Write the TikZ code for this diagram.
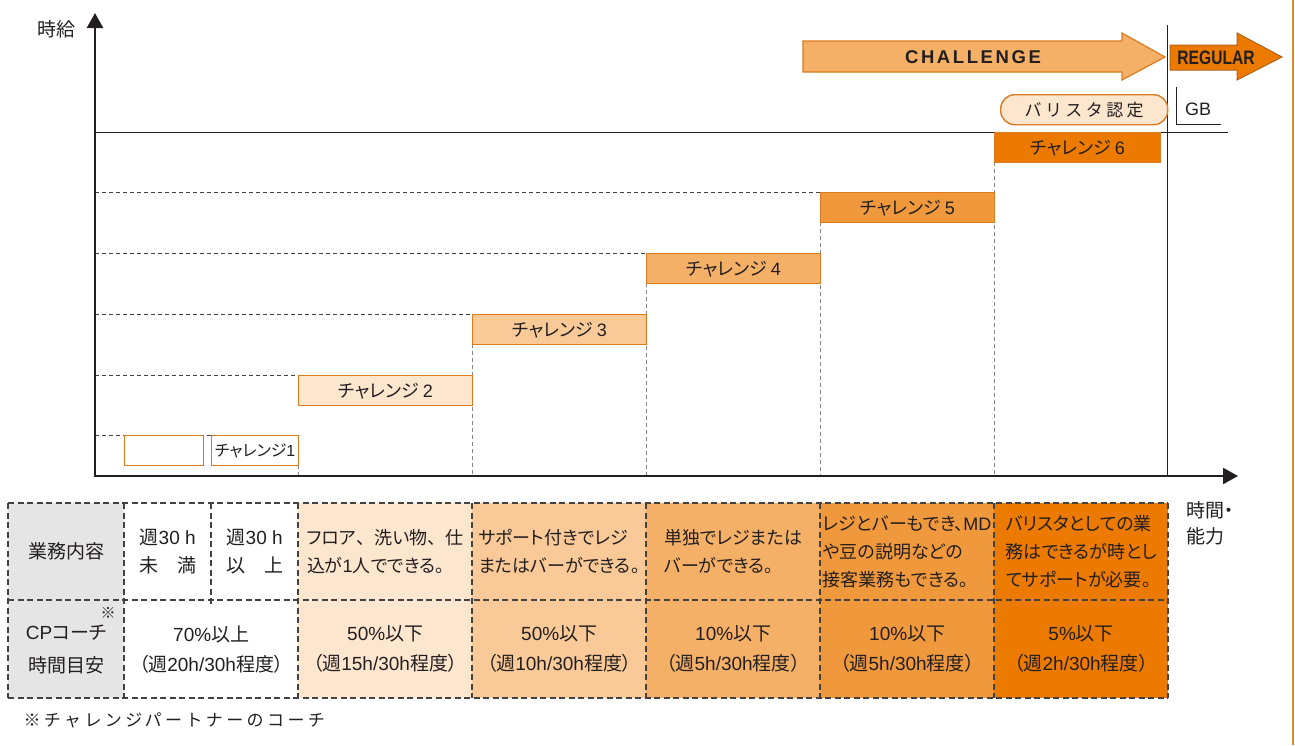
\documentclass[tikz,border=0pt]{standalone}
\usepackage{fontspec}
\setmainfont{Noto Sans CJK JP}[RawFeature=+palt]
\newfontfamily\plainjp{Noto Sans CJK JP}
\newfontfamily\spacedjp[LetterSpace=20]{Noto Sans CJK JP}
\newfontfamily\challfont[LetterSpace=14]{Liberation Sans}
\newfontfamily\latfont{Liberation Sans}
\newcommand\ltn[1]{{\latfont #1}}
\newcommand\fw[1]{{\plainjp #1}}
\newcommand\lpar{\makebox[1em][r]{（}}
\newcommand\rpar{\makebox[1em][l]{）}}
\usetikzlibrary{arrows.meta}
\definecolor{cA}{HTML}{FDE6CE}
\definecolor{cB}{HTML}{F9CA98}
\definecolor{cC}{HTML}{F5B068}
\definecolor{cD}{HTML}{F0983C}
\definecolor{cE}{HTML}{EC7A00}
\definecolor{cborder}{HTML}{DB7A1E}
\definecolor{cgray}{HTML}{E5E5E5}
\definecolor{ctext}{HTML}{231F20}
\definecolor{cedge}{HTML}{E08A30}
\begin{document}
\begin{tikzpicture}[x=1pt,y=-1pt,
  every node/.style={text=ctext},
  stepbox/.style={draw=cborder, line width=1.4pt, minimum height=30pt, inner sep=0pt, anchor=north west, font=\fontsize{18}{18}\selectfont},
  cell/.style={inner sep=0pt, anchor=north west, align=left, minimum height=97pt, font=\fontsize{18}{28}\selectfont},
  cellb/.style={inner sep=0pt, anchor=north west, align=center, minimum height=98pt, font=\fontsize{19}{30}\selectfont},
  grid/.style={draw=ctext!85, line width=1.2pt, dash pattern=on 6pt off 3.5pt},
  hguide/.style={draw=ctext!85, line width=0.8pt, dash pattern=on 4pt off 3pt},
  vguide/.style={draw=ctext!55, line width=0.9pt, dash pattern=on 4pt off 3pt},
  axis/.style={draw=ctext, line width=2.6pt, {Triangle[length=15pt,width=16pt]}-{Triangle[length=15pt,width=16pt]}},
  thinline/.style={draw=ctext, line width=0.9pt}]
\useasboundingbox (0,0) rectangle (1295,745);

% right orange edge
\draw[cedge, line width=2.5pt] (1293,0) -- (1293,745);

% guides
\draw[hguide] (95,192) -- (820,192);
\draw[hguide] (95,253) -- (646,253);
\draw[hguide] (95,314) -- (472,314);
\draw[hguide] (95,375) -- (298,375);
\draw[hguide] (95,435) -- (212,435);
\draw[vguide] (298,465) -- (298,475);
\draw[vguide] (472,344) -- (472,475);
\draw[vguide] (646,283) -- (646,475);
\draw[vguide] (820,222) -- (820,475);
\draw[vguide] (994,162) -- (994,475);
\draw[thinline, line width=0.8pt] (95,132) -- (1228,132);
\draw[thinline] (1167,25) -- (1167,475);

% step boxes
\node[stepbox, fill=white, minimum width=79pt] (blank) at (124,435) {};
\node[stepbox, fill=white, minimum width=87pt, font=\fontsize{16}{16}\selectfont] (s1) at (211,435) {チャレンジ\ltn{1}};
\node[stepbox, fill=cA, minimum width=174pt] (s2) at (298,375) {チャレンジ \ltn{2}};
\node[stepbox, fill=cB, minimum width=174pt] (s3) at (472,314) {チャレンジ \ltn{3}};
\node[stepbox, fill=cC, minimum width=174pt] (s4) at (646,253) {チャレンジ \ltn{4}};
\node[stepbox, fill=cD, minimum width=174pt] (s5) at (820,192) {チャレンジ \ltn{5}};
\node[stepbox, fill=cE, minimum width=166pt] (s6) at (994,132) {チャレンジ \ltn{6}};

% barista
\node[draw=cborder, line width=1.4pt, fill=cA, rounded corners=14pt, minimum width=167pt, minimum height=30pt, inner sep=0pt, anchor=north west, font=\spacedjp\fontsize{17}{17}\selectfont] (barista) at (1000,94) {バリスタ認定};
\draw[thinline] (1176,87) -- (1176,124) -- (1221,124);
\node[font=\latfont\fontsize{18}{18}\selectfont] (gb) at (1198,109) {GB};

% arrows
\draw[cborder, fill=cC, line width=1.2pt] (803,41) -- (1122,41) -- (1122,33) -- (1165,57) -- (1122,80) -- (1122,72) -- (803,72) -- cycle;
\node[font=\challfont\bfseries\fontsize{18.5}{18}\selectfont] (chall) at (973,57) {CHALLENGE};
\draw[cborder!80!black, fill=cE, line width=1pt] (1170,45) -- (1237,45) -- (1237,33) -- (1282,57) -- (1237,80) -- (1237,70) -- (1170,70) -- cycle;
\node[font=\latfont\bfseries\fontsize{19.5}{19}\selectfont, inner sep=0pt] (reg) at (1216,58) {\scalebox{0.8}[1]{REGULAR}};

% axes
\coordinate (ytop) at (95,13);
\coordinate (corner) at (95,476);
\coordinate (xend) at (1238,476);
\draw[axis] (ytop) -- (corner) -- (xend);
\node[font=\fontsize{19}{19}\selectfont] (ylab) at (56,29) {時給};
\node[anchor=north west, align=left, font=\fontsize{19}{26}\selectfont] (xlab) at (1183,498) {時間・\\能力};

% table row 1
\node[cell, fill=cgray, minimum width=116pt, align=center, font=\fontsize{19}{28}\selectfont] (h1) at (8,503) {業務内容};
\node[cell, fill=white, minimum width=87pt, align=center, font=\fontsize{19}{28}\selectfont] (a1) at (124,503) {週\ltn{30 h}\\未　満};
\node[cell, fill=white, minimum width=87pt, align=center, font=\fontsize{19}{28}\selectfont] (b1) at (211,503) {週\ltn{30 h}\\以　上};
\node[cell, fill=cA, minimum width=174pt] (c1) at (298,503) {フロア\fw{、}洗い物\fw{、}仕\\込が\ltn{1}人でできる。};
\node[cell, fill=cB, minimum width=174pt] (d1) at (472,503) {サポート付きでレジ\\またはバーができる。};
\node[cell, fill=cC, minimum width=174pt] (e1) at (646,503) {単独でレジまたは\\バーができる。};
\node[cell, fill=cD, minimum width=174pt] (f1) at (820,503) {レジとバーもでき、\ltn{MD}\\や豆の説明などの\\接客業務もできる。};
\node[cell, fill=cE, minimum width=174pt] (g1) at (994,503) {バリスタとしての業\\務はできるが時とし\\てサポートが必要。};

% table row 2
\node[cellb, fill=cgray, minimum width=116pt, font=\fontsize{19}{33}\selectfont] (h2) at (8,600) {\ltn{CP}コーチ\\時間目安};
\node[font=\fontsize{15}{15}\selectfont, inner sep=0pt] (mark) at (108,613) {※};
\node[cellb, fill=white, minimum width=174pt] (a2) at (124,600) {\ltn{70\%}以上\\\lpar 週\ltn{20h/30h}程度\rpar};
\node[cellb, fill=cA, minimum width=174pt] (c2) at (298,600) {\ltn{50\%}以下\\\lpar 週\ltn{15h/30h}程度\rpar};
\node[cellb, fill=cB, minimum width=174pt] (d2) at (472,600) {\ltn{50\%}以下\\\lpar 週\ltn{10h/30h}程度\rpar};
\node[cellb, fill=cC, minimum width=174pt] (e2) at (646,600) {\ltn{10\%}以下\\\lpar 週\ltn{5h/30h}程度\rpar};
\node[cellb, fill=cD, minimum width=174pt] (f2) at (820,600) {\ltn{10\%}以下\\\lpar 週\ltn{5h/30h}程度\rpar};
\node[cellb, fill=cE, minimum width=174pt] (g2) at (994,600) {\ltn{5\%}以下\\\lpar 週\ltn{2h/30h}程度\rpar};

% grid
\draw[grid] (8,503) -- (1168,503);
\draw[grid] (8,600) -- (1168,600);
\draw[grid] (8,698) -- (1168,698);
\foreach \xx in {8,124,298,472,646,820,994,1168} \draw[grid] (\xx,503) -- (\xx,698);
\draw[grid] (211,503) -- (211,605);

% footnote
\node[anchor=west, font=\spacedjp\fontsize{17}{17}\selectfont] (foot) at (20,720) {※チャレンジパートナーのコーチ};
\end{tikzpicture}
\end{document}
